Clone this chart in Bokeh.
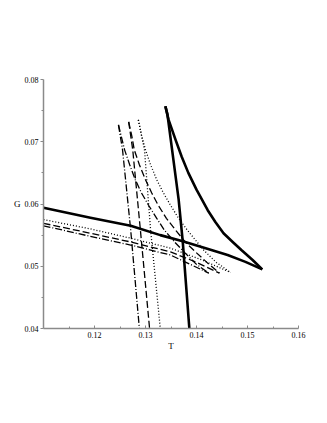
from bokeh.plotting import figure
from bokeh.models import FixedTicker, Range1d
from bokeh.embed import file_html
from bokeh.resources import INLINE

# Thick solid swallowtail
solid_steep_T = [0.1339, 0.1343, 0.1365, 0.1373, 0.1386]
solid_steep_G = [0.0757, 0.0744, 0.0607, 0.0540, 0.0400]
solid_curve_T = [0.1339, 0.1345, 0.1359, 0.1371, 0.1384, 0.1400, 0.1422, 0.1437,
                 0.1453, 0.1471, 0.1488, 0.1510, 0.1529]
solid_curve_G = [0.0757, 0.0736, 0.0703, 0.0676, 0.0650, 0.0623, 0.0590, 0.0571,
                 0.0553, 0.0539, 0.0526, 0.0510, 0.0495]
solid_line_T = [0.1100, 0.1192, 0.1271, 0.1329, 0.1373, 0.1418, 0.1461, 0.1496, 0.1529]
solid_line_G = [0.0594, 0.0578, 0.0565, 0.0550, 0.0540, 0.0529, 0.0518, 0.0507, 0.0495]

# Dotted swallowtail
dot_steep_T = [0.1286, 0.1298, 0.1310, 0.1329]
dot_steep_G = [0.0735, 0.0687, 0.0558, 0.0400]
dot_curve_T = [0.1286, 0.1292, 0.1300, 0.1310, 0.1322, 0.1335, 0.1349, 0.1365,
               0.1382, 0.1398, 0.1414, 0.1439, 0.1467]
dot_curve_G = [0.0735, 0.0711, 0.0687, 0.0663, 0.0639, 0.0618, 0.0598, 0.0577,
               0.0558, 0.0542, 0.0526, 0.0506, 0.0490]
dot_line_T = [0.1100, 0.1192, 0.1271, 0.1349, 0.1408, 0.1467]
dot_line_G = [0.0575, 0.0560, 0.0545, 0.0529, 0.0511, 0.0490]

# Dashed swallowtail
dash_steep_T = [0.1267, 0.1275, 0.1290, 0.1308]
dash_steep_G = [0.0732, 0.0687, 0.0558, 0.0400]
dash_curve_T = [0.1267, 0.1273, 0.1278, 0.1288, 0.1300, 0.1312, 0.1325, 0.1341,
                0.1359, 0.1378, 0.1398, 0.1422, 0.1445]
dash_curve_G = [0.0732, 0.0710, 0.0687, 0.0663, 0.0639, 0.0618, 0.0598, 0.0577,
                0.0558, 0.0539, 0.0523, 0.0505, 0.0489]
dash_line_T = [0.1100, 0.1192, 0.1271, 0.1349, 0.1398, 0.1445]
dash_line_G = [0.0569, 0.0553, 0.0539, 0.0523, 0.0507, 0.0489]

# Dash-dot swallowtail
dd_steep_T = [0.1247, 0.1255, 0.1271, 0.1288]
dd_steep_G = [0.0727, 0.0687, 0.0558, 0.0400]
dd_curve_T = [0.1247, 0.1253, 0.1259, 0.1269, 0.1280, 0.1292, 0.1306, 0.1322,
              0.1337, 0.1357, 0.1378, 0.1400, 0.1424]
dd_curve_G = [0.0727, 0.0707, 0.0687, 0.0663, 0.0639, 0.0618, 0.0598, 0.0577,
              0.0558, 0.0539, 0.0521, 0.0503, 0.0489]
dd_line_T = [0.1100, 0.1192, 0.1271, 0.1349, 0.1388, 0.1424]
dd_line_G = [0.0565, 0.0548, 0.0534, 0.0518, 0.0503, 0.0489]

x_ticks = [0.12, 0.13, 0.14, 0.15, 0.16]
y_ticks = [0.04, 0.05, 0.06, 0.07, 0.08]
x_minor = [0.115, 0.125, 0.135, 0.145, 0.155]
y_minor = [0.045, 0.055, 0.065, 0.075]

p = figure(width=319, height=415, output_backend="svg", toolbar_location=None,
           x_range=Range1d(0.11, 0.16), y_range=Range1d(0.04, 0.08),
           min_border_left=43, min_border_right=21, min_border_top=79,
           min_border_bottom=87)
p.outline_line_color = None
p.xgrid.visible = False
p.ygrid.visible = False
p.background_fill_color = "white"

FONT = "Liberation Serif"

series = [
    ((solid_steep_T, solid_steep_G), (solid_curve_T, solid_curve_G), (solid_line_T, solid_line_G), "solid", 2.6),
    ((dot_steep_T, dot_steep_G), (dot_curve_T, dot_curve_G), (dot_line_T, dot_line_G), "1 2", 1.3),
    ((dash_steep_T, dash_steep_G), (dash_curve_T, dash_curve_G), (dash_line_T, dash_line_G), "7 3", 1.3),
    ((dd_steep_T, dd_steep_G), (dd_curve_T, dd_curve_G), (dd_line_T, dd_line_G), "7 2 1 2", 1.3),
]
for a, b, c, dash, w in series:
    for (tx, gy) in (a, b, c):
        p.line(tx, gy, line_color="black", line_width=w, line_dash=dash, line_join="round")

for ax, ticks, minor in ((p.xaxis[0], x_ticks, x_minor), (p.yaxis[0], y_ticks, y_minor)):
    ax.ticker = FixedTicker(ticks=ticks, minor_ticks=minor)
    ax.axis_line_color = "#8a8a8a"
    ax.axis_line_width = 1.5
    ax.major_tick_line_color = "#8a8a8a"
    ax.minor_tick_line_color = "#8a8a8a"
    ax.major_label_text_font = FONT
    ax.major_label_text_font_size = "8px"
    ax.major_label_text_color = "black"
    ax.axis_label_text_font = FONT
    ax.axis_label_text_font_size = "9px"
    ax.axis_label_text_font_style = "normal"
    ax.axis_label_text_color = "black"

p.xaxis.major_tick_in = 3
p.xaxis.major_tick_out = 0
p.xaxis.minor_tick_in = 2
p.xaxis.minor_tick_out = 0
p.xaxis.major_label_standoff = 3
p.xaxis.major_label_overrides = {0.12: "0.12", 0.13: "0.13", 0.14: "0.14", 0.15: "0.15", 0.16: "0.16"}
p.xaxis.axis_label = "T"
p.xaxis.axis_label_standoff = 0

p.yaxis.major_tick_in = 0
p.yaxis.major_tick_out = 3
p.yaxis.minor_tick_in = 0
p.yaxis.minor_tick_out = 2
p.yaxis.major_label_standoff = 2
p.yaxis.major_label_overrides = {0.04: "0.04", 0.05: "0.05", 0.06: "0.06", 0.07: "0.07", 0.08: "0.08"}
p.yaxis.axis_label = "G"
p.yaxis.axis_label_orientation = "horizontal"
p.yaxis.axis_label_standoff = 1

open("out.html", "w").write(file_html(p, INLINE))
